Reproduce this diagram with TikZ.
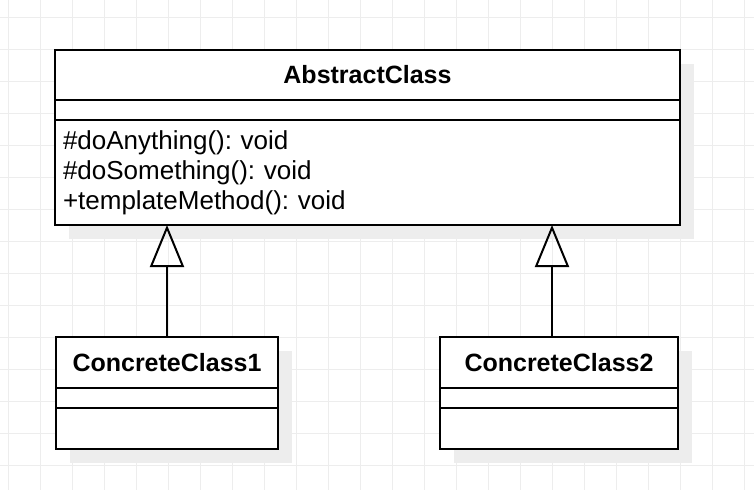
\documentclass[tikz,border=0pt]{standalone}
\usepackage{fontspec}
\setmainfont{Liberation Sans}
\usetikzlibrary{arrows.meta,positioning,shadows}
\frenchspacing

\tikzset{
  gridline/.style={black!7, line width=1pt},
  classpart/.style={draw, line width=2pt, fill=white, inner sep=0pt, outer sep=0pt,
    anchor=north west, font=\fontsize{26}{30}\selectfont,
    drop shadow={shadow xshift=14pt, shadow yshift=-14pt, fill=black!7, opacity=1}},
  classtitle/.style={classpart, font=\fontsize{25}{30}\selectfont\bfseries},
  inherit/.style={line width=2pt, -{Triangle[open, length=42pt, width=34pt]}},
}

\begin{document}
\begin{tikzpicture}[x=1pt, y=-1pt]
    % ---------------------------------------------
    \fill[white] (0,0) rectangle (754,490);
    \useasboundingbox (0,0) rectangle (754,490);
    \foreach \gx in {8,40,...,744}
        \draw[gridline] (\gx,0) -- (\gx,490);
    \foreach \gy in {17,49,...,465}
        \draw[gridline] (0,\gy) -- (754,\gy);

    % abstract class
    \node[classtitle, minimum width=625pt, minimum height=50pt] (abs-title) at (55,50) {AbstractClass};
    \node[classpart, minimum width=625pt, minimum height=20pt, below=0pt of abs-title] (abs-attr) {};
    \node[classpart, text width=609pt, inner xsep=8pt, minimum height=105pt, align=left,
        below=0pt of abs-attr] (abs-meth)
        {\#doAnything(): void\\ \#doSomething(): void\\ +templateMethod(): void};

    % concrete classes
    \node[classtitle, minimum width=222pt, minimum height=51pt] (c1-title) at (56,337) {ConcreteClass1};
    \node[classpart, minimum width=222pt, minimum height=20pt, below=0pt of c1-title] (c1-attr) {};
    \node[classpart, minimum width=222pt, minimum height=41pt, below=0pt of c1-attr] (c1-meth) {};

    \node[classtitle, minimum width=238pt, minimum height=51pt] (c2-title) at (440,337) {ConcreteClass2};
    \node[classpart, minimum width=238pt, minimum height=20pt, below=0pt of c2-title] (c2-attr) {};
    \node[classpart, minimum width=238pt, minimum height=41pt, below=0pt of c2-attr] (c2-meth) {};

    % generalization
    \draw[inherit] (c1-title.north) -- (c1-title.north |- abs-meth.south);
    \draw[inherit] ([xshift=-7pt]c2-title.north) -- ([xshift=-7pt]c2-title.north |- abs-meth.south);

\end{tikzpicture}
\end{document}
